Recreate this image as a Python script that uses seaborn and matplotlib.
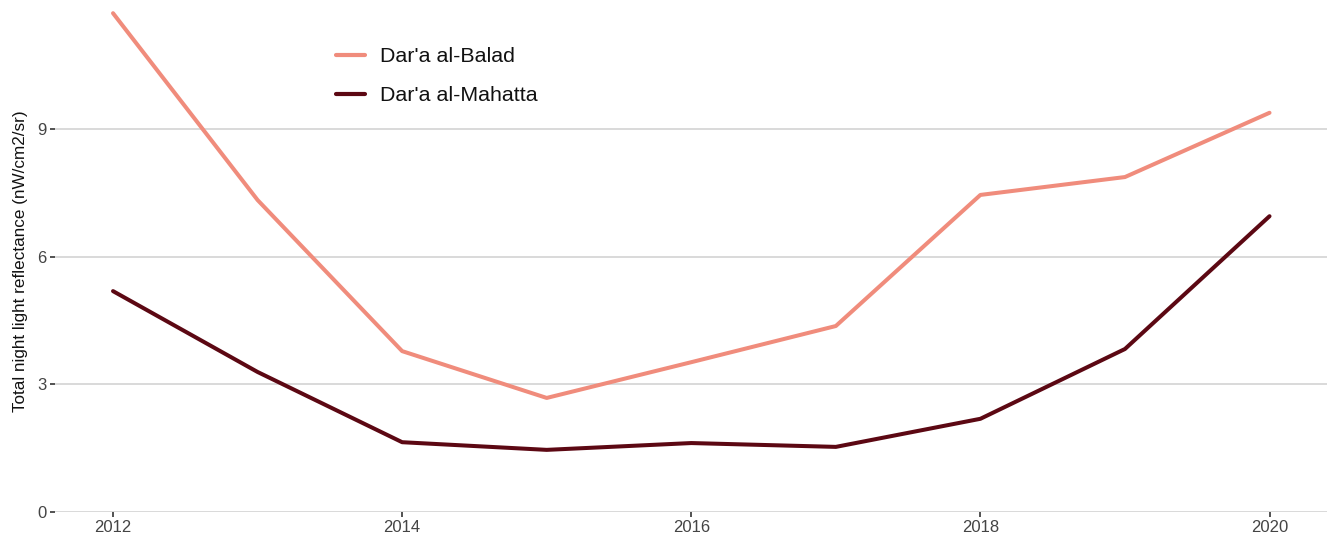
import matplotlib
matplotlib.use("Agg")
import matplotlib.pyplot as plt
import seaborn as sns
import pandas as pd

years = [2012, 2013, 2014, 2015, 2016, 2017, 2018, 2019, 2020]
balad = [11.72, 7.33, 3.78, 2.68, 3.52, 4.37, 7.45, 7.87, 9.38]
mahatta = [5.19, 3.29, 1.64, 1.46, 1.62, 1.53, 2.19, 3.83, 6.95]
series_names = ["Dar'a al-Balad", "Dar'a al-Mahatta"]
colors = ["#f08c7c", "#5c0813"]
y_ticks = [0, 3, 6, 9]
x_ticks = [2012, 2014, 2016, 2018, 2020]
y_label = "Total night light reflectance (nW/cm2/sr)"

df = pd.DataFrame({
    "year": years * 2,
    "value": balad + mahatta,
    "area": [series_names[0]] * len(years) + [series_names[1]] * len(years),
})

sns.set_theme(style="white")
plt.rcParams['font.family'] = ['Liberation Sans', 'DejaVu Sans']

fig = plt.figure(figsize=(13.3, 5.41), dpi=100)
ax = fig.add_axes([0.0415, 0.0536, 0.9565, 0.9464])

sns.lineplot(data=df, x="year", y="value", hue="area", hue_order=series_names,
             palette=colors, linewidth=2.9, ax=ax)

ax.set_xlim(2011.6, 2020.4)
ax.set_ylim(0, 12.03)
ax.set_yticks(y_ticks)
ax.set_xticks(x_ticks)
ax.set_xticklabels([str(x) for x in x_ticks])
for y in y_ticks:
    ax.axhline(y, color="#cfcfcf", linewidth=1.1, zorder=0)
for s in ax.spines.values():
    s.set_visible(False)
ax.tick_params(axis="both", which="both", bottom=True, left=True, length=3.5, width=1.2,
               color="#333333", labelsize=12, labelcolor="#444444", pad=3, direction="out")
ax.tick_params(axis="x", pad=2)
ax.set_xlabel("")
ax.set_ylabel(y_label, fontsize=12.3, color="#111111")
ax.yaxis.set_label_coords(-0.0215, 0.49)

leg = ax.legend(loc="upper left", bbox_to_anchor=(0.221, 0.908), frameon=False,
                fontsize=15.4, handlelength=1.36, labelspacing=0.95, handletextpad=0.7,
                borderpad=0, borderaxespad=0)
for line in leg.get_lines():
    line.set_linewidth(3)
for t in leg.get_texts():
    t.set_color("#111111")

fig.savefig("out.png", dpi=100)
